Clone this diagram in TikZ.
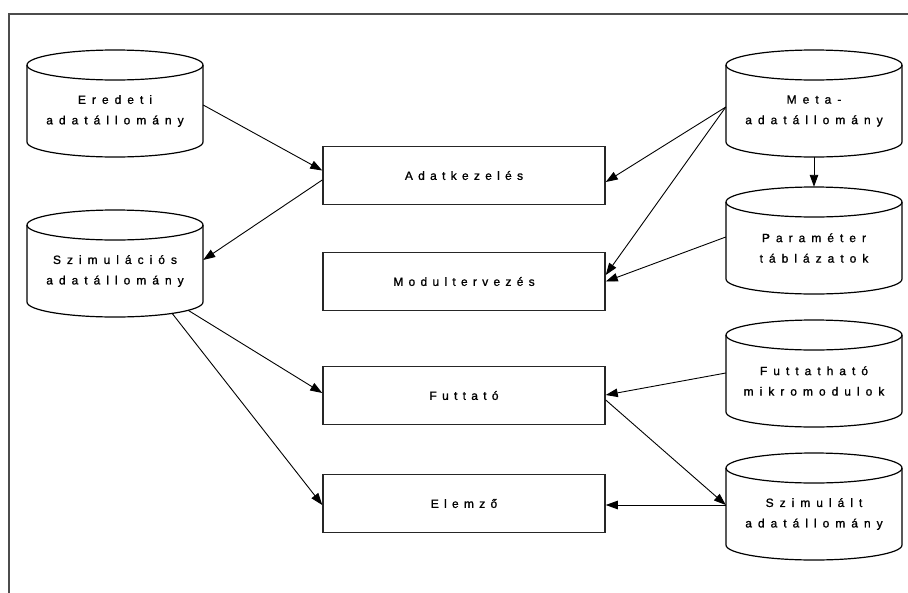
\documentclass[tikz,border=0pt]{standalone}
\usepackage{fontspec}
\newfontfamily\cylfont{Liberation Sans}[LetterSpace=50,FakeBold=1.2]
\newfontfamily\procfont{Liberation Sans}[LetterSpace=44,FakeBold=1.2]
\usetikzlibrary{arrows.meta}
\newcommand\dbcyl[4]{%
  \draw[cylline] (#2,#3) ellipse[x radius=88,y radius=15];
  \draw[cylline] (#2-88,#3) -- (#2-88,#3+77) arc[start angle=180,end angle=0,x radius=88,y radius=15] -- (#2+88,#3);
  \node[cyltext] (#1) at (#2,#3+46) {#4};
}
\begin{document}
\begin{tikzpicture}[x=1pt,y=-1pt,
  cylline/.style={draw=black,line width=1.2pt},
  cyltext/.style={minimum width=176pt,minimum height=62pt,inner sep=0pt,align=center,
    font=\cylfont\fontsize{12}{20.5}\selectfont},
  proc/.style={draw=black!85,line width=1.5pt,minimum width=282pt,minimum height=58pt,inner sep=0pt,
    font=\procfont\fontsize{12}{20.5}\selectfont},
  conn/.style={draw=black,line width=0.9pt,-{Triangle[length=12pt,width=8.5pt]}},
  frame/.style={draw=black!70,line width=2pt}]
\useasboundingbox (0,0) rectangle (908,592);
\fill[white] (0,0) rectangle (908,592);
\coordinate (frTL) at (8.5,13.5);
\coordinate (frBL) at (8.5,595);
\coordinate (frTR) at (912,13.5);
\draw[frame] (frBL) -- (frTL) -- (frTR);

\dbcyl{eredeti}{115}{65}{Eredeti\\adatállomány}
\dbcyl{szim}{115}{225}{Szimulációs\\adatállomány}
\dbcyl{meta}{814}{65}{Meta-\\adatállomány}
\dbcyl{param}{814}{202}{Paraméter\\táblázatok}
\dbcyl{futtm}{814}{335}{Futtatható\\mikromodulok}
\dbcyl{szimult}{814}{468}{Szimulált\\adatállomány}

\node[proc] (adat) at (464,175.5) {Adatkezelés};
\node[proc] (modul) at (464,281.5) {Modultervezés};
\node[proc] (futt) at (464,395.5) {Futtató};
\node[proc] (elem) at (464,503.5) {Elemző};

\draw[conn] ([yshift=6pt]eredeti.east) -- ([yshift=5pt]adat.west);
\draw[conn] ([yshift=-4.5pt]adat.west) -- ([yshift=11pt]szim.east);
\draw[conn] ([yshift=4pt]meta.west) -- ([yshift=-6.5pt]adat.east);
\draw[conn] ([yshift=4pt]meta.west) -- ([yshift=6.5pt]modul.east);
\draw[conn] ([yshift=-15pt]meta.south) -- ([yshift=30pt]param.north);
\draw[conn] ([yshift=11pt]param.west) -- (modul.east);
\draw[conn] ([xshift=73pt,yshift=-8pt]szim.south) -- ([yshift=2.5pt]futt.west);
\draw[conn] ([xshift=57pt,yshift=-11pt]szim.south) -- ([yshift=-1.5pt]elem.west);
\draw[conn] ([yshift=8pt]futtm.west) -- ([yshift=0.5pt]futt.east);
\draw[conn] ([yshift=-4.5pt]futt.east) -- ([yshift=9pt]szimult.west);
\draw[conn] ([yshift=9pt]szimult.west) -- ([yshift=-1.5pt]elem.east);
\end{tikzpicture}
\end{document}
